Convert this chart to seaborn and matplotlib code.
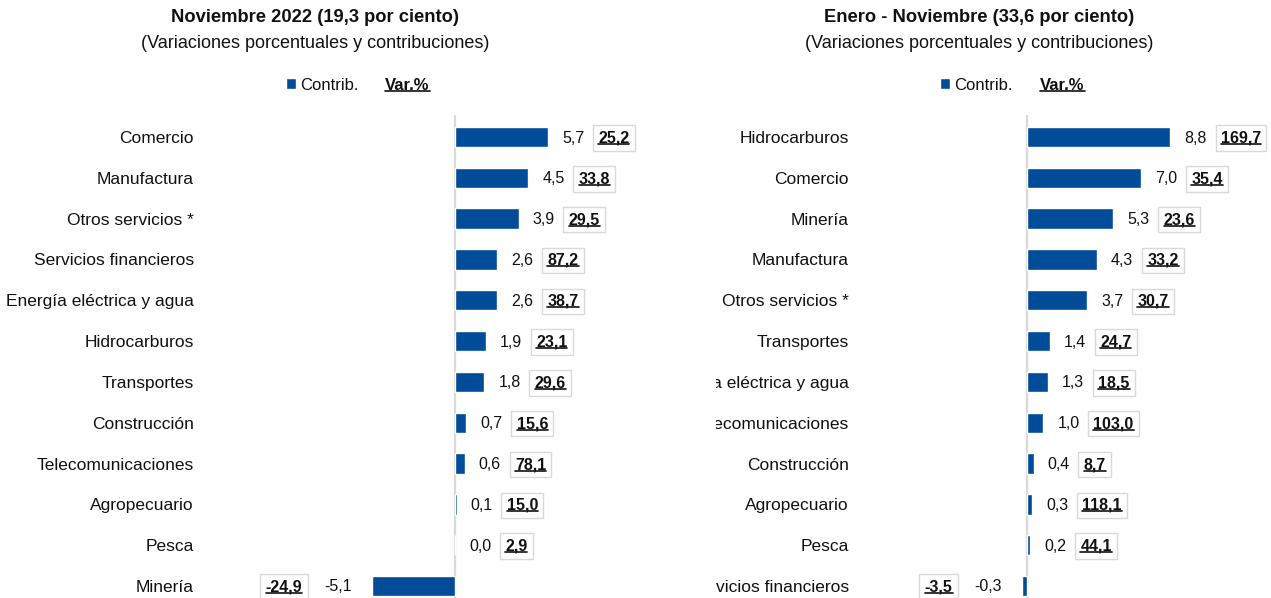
#%%
import numpy as np
import pandas as pd
import matplotlib
matplotlib.use('Agg')
import matplotlib.pyplot as plt
import seaborn as sns
from matplotlib.lines import Line2D
from matplotlib.transforms import Bbox, TransformedBbox

#%% data
sect_nov = ['Comercio', 'Manufactura', 'Otros servicios *', 'Servicios financieros',
            'Energía eléctrica y agua', 'Hidrocarburos', 'Transportes', 'Construcción',
            'Telecomunicaciones', 'Agropecuario', 'Pesca', 'Minería']
contrib_nov = [5.7, 4.5, 3.9, 2.6, 2.6, 1.9, 1.8, 0.7, 0.6, 0.1, 0.0, -5.1]
var_nov = [25.2, 33.8, 29.5, 87.2, 38.7, 23.1, 29.6, 15.6, 78.1, 15.0, 2.9, -24.9]

sect_ene = ['Hidrocarburos', 'Comercio', 'Minería', 'Manufactura', 'Otros servicios *',
            'Transportes', 'Energía eléctrica y agua', 'Telecomunicaciones', 'Construcción',
            'Agropecuario', 'Pesca', 'Servicios financieros']
contrib_ene = [8.8, 7.0, 5.3, 4.3, 3.7, 1.4, 1.3, 1.0, 0.4, 0.3, 0.2, -0.3]
var_ene = [169.7, 35.4, 23.6, 33.2, 30.7, 24.7, 18.5, 103.0, 8.7, 118.1, 44.1, -3.5]

titles = ['Noviembre 2022 (19,3 por ciento)', 'Enero - Noviembre (33,6 por ciento)']
subtitle = '(Variaciones porcentuales y contribuciones)'

#%% style
sns.set_theme(style='white')
plt.rcParams['font.family'] = ['Liberation Sans', 'DejaVu Sans']
blue = '#004c99'
txt = '#111111'
W, H = 1271, 598
fs = 11.5      # value labels
fs_lab = 12.5  # sector labels

def fmt(v):
    return f'{v:.1f}'.replace('.', ',')

fig = plt.figure(figsize=(W / 100, H / 100), dpi=100)
fig.patch.set_facecolor('white')

# px per unit = 16.3, zero line at 455 / 1027
ax1 = fig.add_axes([200 / W, -10 / H, 440 / W, 493 / H])
ax2 = fig.add_axes([855 / W, -10 / H, 416 / W, 493 / H])

underline = []

def panel(ax, sect, contrib, var, zero_px, left_px, right_px):
    df = pd.DataFrame({'sector': sect, 'contrib': contrib, 'var': var})
    ax.axvline(0, color='#d9d9d9', lw=1.6, zorder=0)
    sns.barplot(data=df, x='contrib', y='sector', orient='h', color=blue,
                width=0.5, saturation=1, ax=ax, label='Contrib.', zorder=2)
    ax.set_xlim((left_px - zero_px) / 16.3, (right_px - zero_px) / 16.3)
    ax.set_ylim(len(sect) - 1 + 0.54, -0.54)
    for s in ax.spines.values():
        s.set_visible(False)
    ax.set_xticks([])
    ax.set_xlabel('')
    ax.set_ylabel('')
    ax.tick_params(axis='y', length=0, pad=4.5, labelsize=fs_lab, labelcolor=txt)
    for i, (c, v) in enumerate(zip(df.contrib, df['var'])):
        if c >= 0:
            t = ax.annotate(fmt(c), xy=(c, i), xytext=(14, -1), textcoords='offset pixels',
                            ha='left', va='center', fontsize=fs, color=txt)
            tv = ax.annotate(fmt(v), xy=(1, 0.5), xycoords=t, xytext=(14, 0),
                             textcoords='offset pixels', ha='left', va='center',
                             fontsize=fs, weight='bold', color=txt,
                             bbox=dict(boxstyle='square,pad=0.33', fc='white', ec='#d9d9d9', lw=1))
        else:
            t = ax.annotate(fmt(c), xy=(c, i), xytext=(-20, -1), textcoords='offset pixels',
                            ha='right', va='center', fontsize=fs, color=txt)
            tv = ax.annotate(fmt(v), xy=(0, 0.5), xycoords=t, xytext=(-22, 0),
                             textcoords='offset pixels', ha='right', va='center',
                             fontsize=fs, weight='bold', color=txt,
                             bbox=dict(boxstyle='square,pad=0.33', fc='white', ec='#d9d9d9', lw=1))
        underline.append(tv)
    if ax.get_legend() is not None:
        ax.get_legend().remove()

panel(ax1, sect_nov, contrib_nov, var_nov, 455, 200, 640)
panel(ax2, sect_ene, contrib_ene, var_ene, 1027, 855, 1271)

# titles and legends
for cx, ttl, leg_x, var_x, ax in [(315, titles[0], 286, 385, ax1), (979, titles[1], 940, 1040, ax2)]:
    fig.text(cx / W, 1 - 17 / H, ttl, ha='center', va='center', fontsize=13.2,
             weight='bold', color=txt)
    fig.text(cx / W, 1 - 43 / H, subtitle, ha='center', va='center', fontsize=13,
             color=txt)
    h, l = ax.get_legend_handles_labels()
    ax.legend(h[:1], l[:1], loc='center left', bbox_to_anchor=(leg_x / W, 1 - 85 / H),
              bbox_transform=fig.transFigure, frameon=False, fontsize=12,
              handlelength=0.6, handleheight=0.6, handletextpad=0.25,
              borderpad=0, borderaxespad=0, labelcolor=txt)
    tv = fig.text(var_x / W, 1 - 85 / H, 'Var.%', ha='left', va='center', fontsize=12,
                  weight='bold', color=txt)
    underline.append(tv)

# right panel labels are cut at the left edge
clip = TransformedBbox(Bbox([[716 / W, 0], [1, 1]]), fig.transFigure)
for lab in ax2.get_yticklabels():
    lab.set_clip_on(True)
    lab.set_clip_box(clip)

#%% underline the bold Var.% labels
fig.canvas.draw()
r = fig.canvas.get_renderer()
inv = fig.transFigure.inverted()
for t in underline:
    bb = t.get_window_extent(r)
    (x0, y0), (x1, _) = inv.transform([[bb.x0, bb.y0 + 1.5], [bb.x1, bb.y0 + 1.5]])
    fig.add_artist(Line2D([x0, x1], [y0, y0], transform=fig.transFigure,
                          color=txt, lw=1.2))

fig.savefig('out.png', dpi=100)
